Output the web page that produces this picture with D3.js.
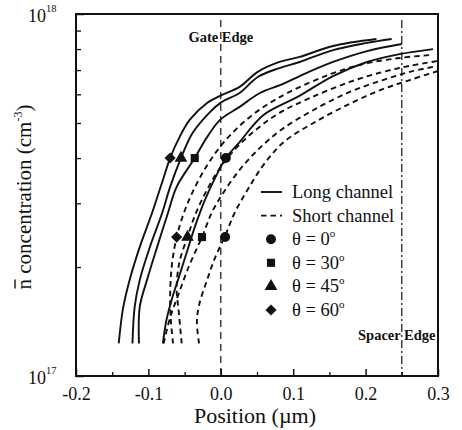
<!DOCTYPE html>
<html>
<head>
<meta charset="utf-8">
<script src="https://cdn.jsdelivr.net/npm/d3@7"></script>
<style>
  html, body { margin: 0; padding: 0; background: #fff; }
  svg { display: block; font-family: "Liberation Serif", "Times New Roman", "DejaVu Serif", serif; }
</style>
</head>
<body>
<svg id="chart" width="462" height="430"></svg>
<script>
// ---- data (position in µm, concentration in units of 1e17 cm^-3) ----
const xTicks = [-0.2, -0.1, 0.0, 0.1, 0.2, 0.3];
const xTickLabels = ["-0.2", "-0.1", "0.0", "0.1", "0.2", "0.3"];
const xMinorTicks = [-0.15, -0.05, 0.05, 0.15, 0.25];
const yTicks = [1, 10];
const yTickExponents = ["17", "18"];
const yMinorTicks = [2, 3, 4, 5, 6, 7, 8, 9];

const thetas = ["0", "30", "45", "60"];
const gateEdge = 0.0;
const spacerEdge = 0.25;

// Long channel (solid)
const long60 = [[-0.141,1.23],[-0.135,1.54],[-0.126,1.84],[-0.112,2.27],[-0.095,2.82],[-0.080,3.48],[-0.070,4.00],[-0.057,4.57],[-0.043,5.10],[-0.019,5.68],[0.001,5.97],[0.026,6.29],[0.051,6.92],[0.081,7.37],[0.109,7.61],[0.155,8.16],[0.215,8.53]];
const long45 = [[-0.122,1.23],[-0.119,1.55],[-0.112,1.84],[-0.098,2.27],[-0.081,2.82],[-0.070,3.33],[-0.055,4.00],[-0.039,4.69],[-0.015,5.36],[0.001,5.71],[0.026,6.05],[0.051,6.70],[0.081,7.09],[0.109,7.37],[0.155,7.95],[0.202,8.32],[0.236,8.53]];
const long30 = [[-0.113,1.23],[-0.112,1.55],[-0.102,1.84],[-0.088,2.27],[-0.073,2.82],[-0.061,3.33],[-0.036,4.00],[-0.019,4.57],[-0.001,5.10],[0.026,5.54],[0.054,6.05],[0.086,6.41],[0.109,6.74],[0.155,7.37],[0.202,7.90],[0.250,8.26]];
const long0  = [[-0.080,1.23],[-0.075,1.43],[-0.068,1.62],[-0.057,1.90],[-0.046,2.23],[-0.035,2.61],[-0.022,3.06],[-0.008,3.52],[0.007,4.00],[0.026,4.43],[0.059,5.26],[0.106,5.90],[0.155,6.74],[0.202,7.37],[0.247,7.75],[0.293,8.00]];

// Short channel (dashed)
const short60 = [[-0.066,1.23],[-0.069,1.43],[-0.070,1.64],[-0.068,1.99],[-0.061,2.42],[-0.051,2.82],[-0.039,3.22],[-0.021,3.76],[0.000,4.32],[0.026,4.91],[0.057,5.50],[0.095,6.09],[0.152,6.83],[0.198,7.28],[0.247,7.56],[0.289,7.70]];
const short45 = [[-0.054,1.23],[-0.058,1.50],[-0.061,1.75],[-0.057,2.07],[-0.046,2.42],[-0.035,2.80],[-0.019,3.27],[-0.001,3.76],[0.021,4.26],[0.048,4.78],[0.081,5.33],[0.123,5.86],[0.178,6.49],[0.224,6.92],[0.261,7.19],[0.300,7.42]];
const short30 = [[-0.079,1.23],[-0.070,1.45],[-0.059,1.67],[-0.044,2.01],[-0.026,2.42],[-0.012,2.84],[0.004,3.22],[0.026,3.71],[0.051,4.21],[0.083,4.78],[0.128,5.43],[0.178,6.09],[0.224,6.57],[0.261,6.92],[0.300,7.19]];
const short0  = [[-0.030,1.23],[-0.033,1.41],[-0.030,1.57],[-0.019,1.84],[-0.008,2.12],[0.006,2.44],[0.019,2.82],[0.037,3.27],[0.059,3.83],[0.087,4.43],[0.128,5.00],[0.175,5.61],[0.221,6.17],[0.261,6.57],[0.300,6.96]];

// Marker positions (theta order 0,30,45,60)
const longMarkerConc = 4.0;
const longMarkerPos = [0.007, -0.036, -0.055, -0.070];
const shortMarkerConc = 2.42;
const shortMarkerPos = [0.006, -0.026, -0.046, -0.061];

// ---- drawing ----
const svg = d3.select("#chart");
const FONT = "Liberation Serif, Times New Roman, DejaVu Serif, serif";
const plotL = 76, plotR = 438, plotT = 14, plotB = 376;
const x = d3.scaleLinear().domain([-0.2, 0.3]).range([plotL, plotR]);
const y = d3.scaleLog().domain([1, 10]).range([plotB, plotT]);
const ink = "#111";

// square rotated 45 degrees (rhombus) for the 60° marker
const symbolRhombus = {
  draw(ctx, size) {
    const r = Math.sqrt(size / 2);
    ctx.moveTo(0, -r); ctx.lineTo(r, 0); ctx.lineTo(0, r); ctx.lineTo(-r, 0); ctx.closePath();
  }
};
const symbolTypes = [d3.symbolCircle, d3.symbolSquare, d3.symbolTriangle, symbolRhombus];
const symbolSizes = [78, 66, 70, 62];

// vertical reference lines
svg.append("line")
  .attr("x1", x(gateEdge)).attr("x2", x(gateEdge))
  .attr("y1", 20).attr("y2", plotB)
  .attr("stroke", ink).attr("stroke-width", 1.2).attr("stroke-dasharray", "7,5");
svg.append("line")
  .attr("x1", x(spacerEdge)).attr("x2", x(spacerEdge))
  .attr("y1", 20).attr("y2", plotB)
  .attr("stroke", ink).attr("stroke-width", 1.2).attr("stroke-dasharray", "8,3,2,3");

const line = d3.line()
  .x(d => x(d[0])).y(d => y(d[1]))
  .curve(d3.curveCatmullRom.alpha(0.5));

const longSeries = [long0, long30, long45, long60];
const shortSeries = [short0, short30, short45, short60];

svg.append("g").selectAll("path").data(longSeries).join("path")
  .attr("d", line).attr("fill", "none").attr("stroke", ink).attr("stroke-width", 1.9);
svg.append("g").selectAll("path").data(shortSeries).join("path")
  .attr("d", line).attr("fill", "none").attr("stroke", ink).attr("stroke-width", 1.9)
  .attr("stroke-dasharray", "5.5,4");

// markers
const markerData = [];
thetas.forEach((t, i) => {
  markerData.push({ i, px: longMarkerPos[i], c: longMarkerConc });
  markerData.push({ i, px: shortMarkerPos[i], c: shortMarkerConc });
});
svg.append("g").selectAll("path").data(markerData).join("path")
  .attr("transform", d => `translate(${x(d.px)},${y(d.c)})`)
  .attr("d", d => d3.symbol().type(symbolTypes[d.i]).size(symbolSizes[d.i])())
  .attr("fill", ink);

// axes
const fontTick = 18;
const xAxis = d3.axisBottom(x).tickValues(xTicks)
  .tickFormat((d, i) => xTickLabels[i]).tickSizeInner(-7).tickSizeOuter(0).tickPadding(11);
const gx = svg.append("g").attr("transform", `translate(0,${plotB})`).call(xAxis)
  .attr("font-family", FONT).attr("font-size", fontTick);
gx.selectAll("text").attr("fill", ink);
gx.selectAll("line").attr("stroke", ink).attr("stroke-width", 1.5);
gx.select(".domain").remove();

const xMinor = d3.axisBottom(x).tickValues(xMinorTicks).tickFormat(() => "").tickSizeInner(-4).tickSizeOuter(0);
const gxm = svg.append("g").attr("transform", `translate(0,${plotB})`).call(xMinor);
gxm.selectAll("line").attr("stroke", ink).attr("stroke-width", 1.3);
gxm.select(".domain").remove();

const yAxis = d3.axisLeft(y).tickValues(yTicks).tickSizeInner(-8).tickSizeOuter(0).tickPadding(19)
  .tickFormat(() => "");
const gy = svg.append("g").attr("transform", `translate(${plotL},0)`).call(yAxis)
  .attr("font-family", FONT).attr("font-size", 18);
gy.selectAll("line").attr("stroke", ink).attr("stroke-width", 1.5);
gy.select(".domain").remove();
gy.selectAll(".tick text").each(function(d, i) {
  const t = d3.select(this);
  t.text(null).attr("x", -48).attr("dy", "0.42em").attr("fill", ink).attr("text-anchor", "start");
  t.append("tspan").text("10");
  t.append("tspan").attr("font-size", 10.5).attr("dy", "-0.95em").text(yTickExponents[i]);
});

const yMinor = d3.axisLeft(y).tickValues(yMinorTicks).tickFormat(() => "").tickSizeInner(-5).tickSizeOuter(0);
const gym = svg.append("g").attr("transform", `translate(${plotL},0)`).call(yMinor);
gym.selectAll("line").attr("stroke", ink).attr("stroke-width", 1.3);
gym.select(".domain").remove();

// frame
svg.append("rect").attr("x", plotL).attr("y", plotT).attr("width", plotR - plotL).attr("height", plotB - plotT)
  .attr("fill", "none").attr("stroke", ink).attr("stroke-width", 2);

// annotations
svg.append("text").attr("x", x(gateEdge)).attr("y", 42).attr("text-anchor", "middle").attr("fill", ink)
  .attr("font-family", FONT).attr("font-size", 14.5).attr("font-weight", "bold").text("Gate Edge");
svg.append("text").attr("x", x(spacerEdge) - 5).attr("y", 340).attr("text-anchor", "middle").attr("fill", ink)
  .attr("font-family", FONT).attr("font-size", 14.5).attr("font-weight", "bold").text("Spacer Edge");

// axis titles
svg.append("text").attr("x", 255).attr("y", 423).attr("text-anchor", "middle").attr("fill", ink)
  .attr("font-family", FONT).attr("font-size", 22).text("Position (\u00b5m)");
const ylg = svg.append("g").attr("transform", "translate(31,197) rotate(-90)");
const yl = ylg.append("text").attr("text-anchor", "middle").attr("fill", ink)
  .attr("font-family", FONT).attr("font-size", 21);
yl.append("tspan").text("n");
yl.append("tspan").text(" concentration (cm");
yl.append("tspan").attr("font-size", 12).attr("dy", "-0.75em").text("-3");
yl.append("tspan").attr("dy", "0.45em").text(")");
// overbar on the "n"
const nBox = yl.node().getExtentOfChar(0);
ylg.append("line")
  .attr("x1", nBox.x + 1).attr("x2", nBox.x + nBox.width - 0.5)
  .attr("y1", nBox.y + 3).attr("y2", nBox.y + 3)
  .attr("stroke", ink).attr("stroke-width", 1.4);

// legend
const lgX = 261, lgY0 = 192, lgDy = 23.6, lgTextX = 292;
const legendLines = [
  { label: "Long channel", dash: null },
  { label: "Short channel", dash: "5.5,4" }
];
legendLines.forEach((d, k) => {
  const yy = lgY0 + k * lgDy;
  svg.append("line").attr("x1", lgX).attr("x2", lgX + 21).attr("y1", yy).attr("y2", yy)
    .attr("stroke", ink).attr("stroke-width", 1.9).attr("stroke-dasharray", d.dash);
  svg.append("text").attr("x", lgTextX).attr("y", yy + 6).attr("font-family", FONT).attr("fill", ink)
    .attr("font-size", 18.5).text(d.label);
});
thetas.forEach((t, i) => {
  const yy = lgY0 + (i + 2) * lgDy;
  svg.append("path").attr("transform", `translate(${lgX + 10},${yy})`)
    .attr("d", d3.symbol().type(symbolTypes[i]).size(symbolSizes[i])()).attr("fill", ink);
  const tx = svg.append("text").attr("x", lgTextX).attr("y", yy + 6).attr("font-family", FONT).attr("fill", ink)
    .attr("font-size", 18.5);
  tx.append("tspan").text("\u03b8 = " + t);
  tx.append("tspan").attr("font-size", 11).attr("dy", "-0.75em").text("o");
});
</script>
</body>
</html>
